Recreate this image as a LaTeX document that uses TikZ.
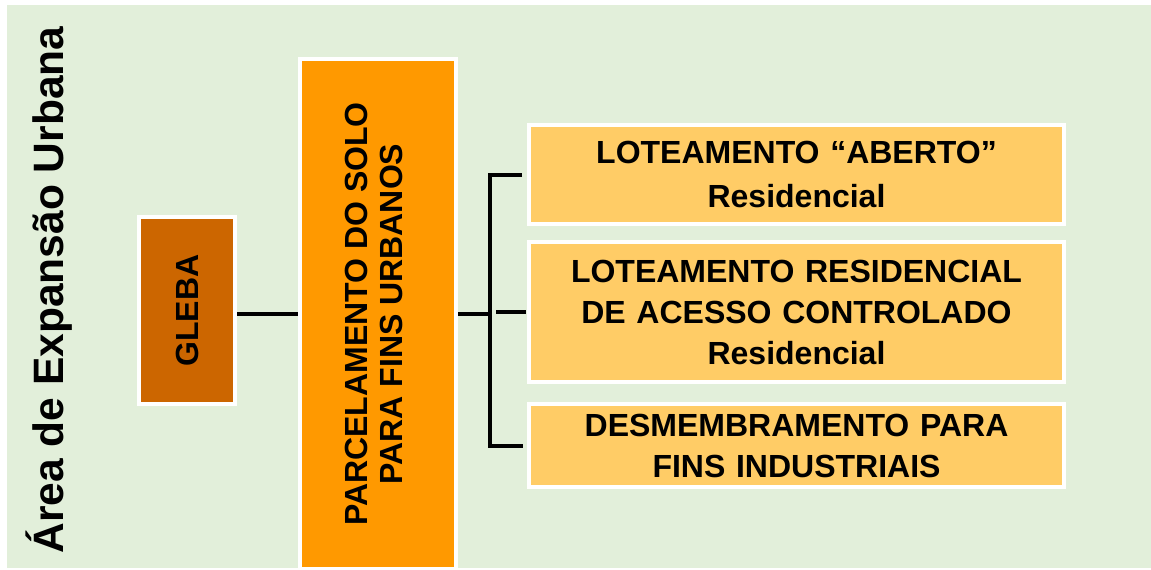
\documentclass[tikz,border=0pt]{standalone}
\usepackage{fontspec}
\setmainfont{Liberation Sans}
\usetikzlibrary{positioning}
\definecolor{bggreen}{HTML}{E2EFDA}
\definecolor{glebabrown}{HTML}{CC6600}
\definecolor{parcelorange}{HTML}{FF9900}
\definecolor{lotyellow}{HTML}{FFCC66}

\begin{document}
\begin{tikzpicture}[x=1pt,y=-1pt,
    box/.style={rectangle,draw=white,line width=4pt,outer sep=2pt,inner sep=0pt,font=\bfseries\fontsize{32}{41}\selectfont},
    glebabox/.style={box,fill=glebabrown,minimum width=96pt,minimum height=187pt},
    parcelbox/.style={box,fill=parcelorange,minimum width=156pt,minimum height=510pt},
    lotbox/.style={box,fill=lotyellow,minimum width=535pt,text width=535pt,align=center},
    conn/.style={line width=4pt}]
    \useasboundingbox (0,0) rectangle (1151,570);
    \fill[bggreen] (7,5) rectangle (1151,568);
    \node (side) [rotate=90,anchor=base,font=\bfseries\fontsize{42.5}{42.5}\selectfont] at (63,290) {Área de Expansão Urbana};
    \node (parcel) [parcelbox] at (378,314) {\rotatebox{90}{\fontsize{32}{35}\selectfont\begin{tabular}{@{}c@{}}PARCELAMENTO DO SOLO\\PARA FINS URBANOS\end{tabular}}};
    \node (gleba) [glebabox,left=61pt of parcel,yshift=3.5pt] {\rotatebox{90}{GLEBA}};
    \node (lot1) [lotbox,minimum height=99pt,font=\bfseries\fontsize{32}{44}\selectfont] at (796.5,174.5) {LOTEAMENTO “ABERTO”\\Residencial};
    \node (lot2) [lotbox,minimum height=140pt,below=14pt of lot1] {LOTEAMENTO RESIDENCIAL\\DE ACESSO CONTROLADO\\Residencial};
    \node (desm) [lotbox,minimum height=83pt,below=18pt of lot2] {DESMEMBRAMENTO PARA\\FINS INDUSTRIAIS};
    \coordinate (fork) at ([xshift=32pt]parcel.east);
    \draw[conn] (gleba.east |- parcel.west) -- (parcel.west);
    \draw[conn] (parcel.east) -- (fork);
    \draw[conn,shorten <=5pt,shorten >=4pt] (lot1.west) -| (fork) |- (desm.west);
    \draw[conn,shorten >=1pt] ([xshift=6pt]fork |- lot2.west) -- (lot2.west); % stub
\end{tikzpicture}
\end{document}
